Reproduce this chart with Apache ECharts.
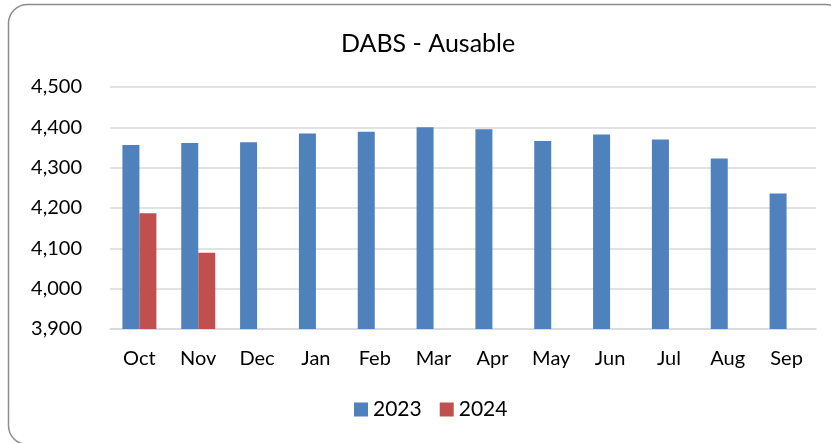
<!DOCTYPE html>
<html>
<head>
<meta charset="utf-8">
<script src="https://cdn.jsdelivr.net/npm/echarts@6/dist/echarts.min.js"></script>
<style>
  html, body { margin: 0; padding: 0; background: #fff; }
  #chart { width: 831px; height: 443px; }
</style>
</head>
<body>
<div id="chart"></div>
<script>
  // month labels, fiscal year Oct..Sep
  var months = ['Oct', 'Nov', 'Dec', 'Jan', 'Feb', 'Mar', 'Apr', 'May', 'Jun', 'Jul', 'Aug', 'Sep']
  var values2023 = [4356, 4361, 4363, 4385, 4389, 4400, 4395, 4366, 4382, 4370, 4323, 4236]
  var values2024 = [4187, 4089, null, null, null, null, null, null, null, null, null, null]
  var yTicks = [3900, 4000, 4100, 4200, 4300, 4400, 4500]

  var font = 'Lato, "Open Sans", sans-serif'

  var chart = echarts.init(document.getElementById('chart'))
  chart.setOption({
    animation: false,
    textStyle: { fontFamily: font },
    graphic: [{
      type: 'rect',
      shape: { x: 8.5, y: 4.5, width: 836, height: 440, r: 19 },
      style: { fill: 'none', stroke: '#8c8c8c', lineWidth: 1.5 },
      silent: true
    }],
    title: {
      text: 'DABS - Ausable',
      left: 336,
      top: 26,
      textStyle: { fontFamily: font, fontSize: 25, fontWeight: 'normal', color: '#000' }
    },
    legend: {
      data: ['2023', '2024'],
      bottom: 18,
      left: 349,
      itemWidth: 14,
      itemHeight: 14,
      itemGap: 18,
      icon: 'rect',
      textStyle: { fontFamily: font, fontSize: 21, color: '#000', padding: [0, 0, 0, 0] }
    },
    grid: {
      left: 110,
      right: 15,
      top: 87,
      bottom: 114
    },
    xAxis: {
      type: 'category',
      data: months,
      axisTick: { show: false },
      axisLine: { show: true, lineStyle: { color: '#d9d9d9', width: 1.5 } },
      axisLabel: { fontFamily: font, fontSize: 20, color: '#000', margin: 20 }
    },
    yAxis: {
      type: 'value',
      min: yTicks[0],
      max: yTicks[yTicks.length - 1],
      interval: 100,
      axisLine: { show: false },
      axisTick: { show: false },
      splitLine: { lineStyle: { color: '#d9d9d9', width: 1.5 } },
      axisLabel: {
        fontFamily: font,
        fontSize: 20,
        color: '#000',
        margin: 28,
        formatter: function (v) { return echarts.format.addCommas(v) }
      }
    },
    series: [
      {
        name: '2023',
        type: 'bar',
        data: values2023,
        barWidth: 17,
        barGap: '0%',
        itemStyle: { color: '#4f81bd' }
      },
      {
        name: '2024',
        type: 'bar',
        data: values2024,
        barWidth: 17,
        itemStyle: { color: '#c0504d' }
      }
    ]
  })
</script>
</body>
</html>
